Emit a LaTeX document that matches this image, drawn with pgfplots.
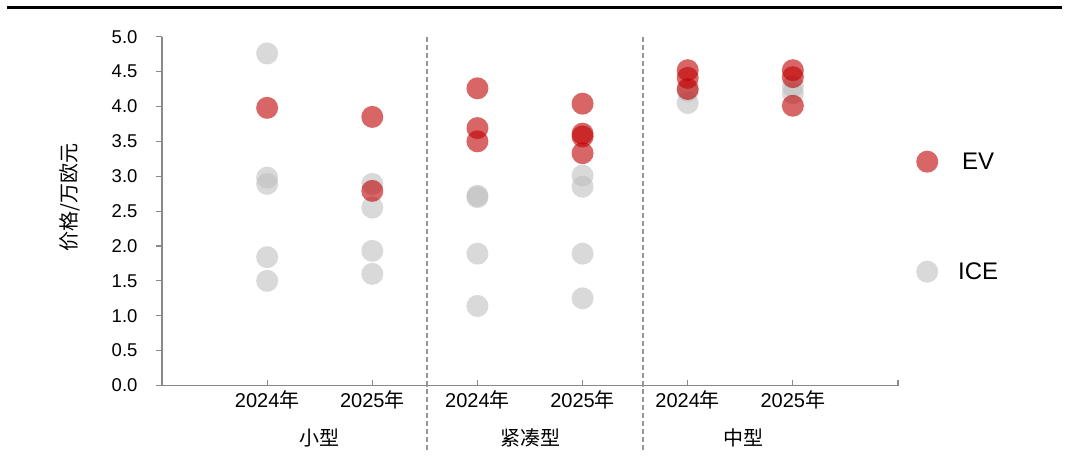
\documentclass[border=0pt]{standalone}
\usepackage{pgfplots}
\pgfplotsset{compat=1.18}
\usepackage{fontspec}
\setmainfont{Liberation Sans}
\newfontfamily\cjk{Noto Sans CJK SC}

\definecolor{evred}{RGB}{192,0,0}
\definecolor{icegray}{RGB}{191,191,191}
\definecolor{axisgray}{RGB}{137,137,137}
\definecolor{sepgray}{RGB}{150,150,150}

% price points, x = position of the year column (1..6)
\pgfplotstableread{
x   y
1   4.76
1   2.98
1   2.89
1   1.84
1   1.50
2   2.89
2   2.55
2   1.93
2   1.60
3   2.72
3   2.70
3   1.89
3   1.14
4   3.01
4   2.85
4   1.89
4   1.25
5   4.05
5   4.22
6   4.29
6   4.19
}\icedata

\pgfplotstableread{
x   y
1   3.98
2   3.85
2   2.79
3   4.26
3   3.69
3   3.50
4   4.04
4   3.61
4   3.57
4   3.33
5   4.52
5   4.41
5   4.25
6   4.52
6   4.42
6   4.01
}\evdata

\begin{document}
\begin{tikzpicture}[x=1pt,y=1pt]
\path[use as bounding box] (0,0) rectangle (1073,-457);
\draw[line width=2.2pt] (7,-7.5) -- (1062,-7.5);
\begin{axis}[
  at={(162pt,-385.5pt)}, anchor=south west,
  scale only axis, width=736pt, height=348.8pt,
  xmin=0, xmax=7, ymin=0, ymax=5,
  clip=false,
  axis x line=bottom, axis y line=left,
  axis line style={-, draw=axisgray, line width=1.2pt},
  tick align=outside,
  major tick length=6pt,
  every tick/.style={draw=axisgray, line width=1.2pt},
  x tick style={yshift=6pt},
  xtick={0,...,7},
  xticklabels={,2024{\cjk 年},2025{\cjk 年},2024{\cjk 年},2025{\cjk 年},2024{\cjk 年},2025{\cjk 年},},
  xticklabel style={font=\fontsize{20}{24}\selectfont, anchor=base, yshift=-16pt},
  ytick={0,0.5,...,5},
  yticklabel style={font=\fontsize{18.5}{22}\selectfont, anchor=east, xshift=-15pt,
    /pgf/number format/.cd, fixed, fixed zerofill, precision=1},
  /pgf/number format/assume math mode=true,
  reverse legend,
  legend cell align=center,
  legend image code/.code={\draw[#1] plot coordinates {(0pt,0pt)};},
  legend style={at={(1.0245,0.484)}, anchor=west, draw=none, fill=none,
    inner sep=0pt, row sep=88pt, column sep=20pt,
    font=\fontsize{24}{28}\selectfont,
    nodes={inner sep=0pt}},
]
\addplot[only marks, mark=*, mark size=11pt,
  mark options={fill=icegray, draw opacity=0, fill opacity=0.6}]
  table[x=x, y=y] {\icedata};
\addlegendentry{ICE}
\addplot[only marks, mark=*, mark size=11pt,
  mark options={fill=evred, draw opacity=0, fill opacity=0.6}]
  table[x=x, y=y] {\evdata};
\addlegendentry{EV}

% group separators
\draw[sepgray, line width=1.2pt, dash pattern=on 5pt off 3pt]
  (axis cs:2.52,5) -- (axis cs:2.52,0) -- ++(0,-64pt);
\draw[sepgray, line width=1.2pt, dash pattern=on 5pt off 3pt]
  (axis cs:4.575,5) -- (axis cs:4.575,0) -- ++(0,-64pt);

% group names
\node[font=\fontsize{20}{24}\selectfont\cjk] at ([yshift=-52.5pt]axis cs:1.5,0) {小型};
\node[font=\fontsize{20}{24}\selectfont\cjk] at ([yshift=-52.5pt]axis cs:3.5,0) {紧凑型};
\node[font=\fontsize{20}{24}\selectfont\cjk] at ([yshift=-52.5pt]axis cs:5.53,0) {中型};

% axis title
\node[font=\fontsize{20}{24}\selectfont\cjk, rotate=90] at ([xshift=-92pt]axis cs:0,2.69) {价格/万欧元};
\end{axis}
\end{tikzpicture}
\end{document}
